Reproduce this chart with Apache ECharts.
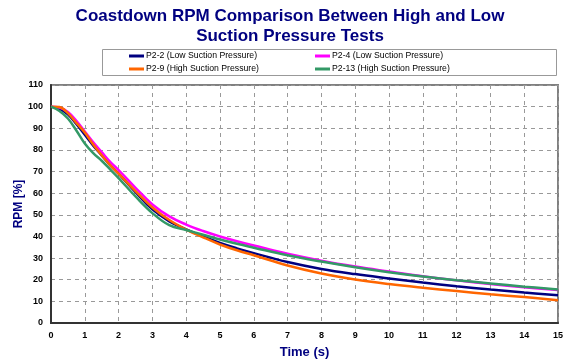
<!DOCTYPE html>
<html><head><meta charset="utf-8">
<script src="https://cdn.jsdelivr.net/npm/echarts@6/dist/echarts.min.js"></script>
<style>html,body{margin:0;padding:0;background:#fff}#c{width:563px;height:360px}</style>
</head><body><div id="c"></div>
<script>
const times = [0,0.25,0.5,0.75,1,1.25,1.5,1.75,2,2.5,3,3.5,4,4.5,5,5.5,6,7,8,9,10,11,12,13,14,15];
const p22  = [100,99,96.5,92,87,82,77.5,73,69,60.5,52.5,47,43.3,40,37,34.5,32.3,28.2,25,22.6,20.6,18.7,17,15.5,14.1,12.8];
const p24  = [100,99.6,97.5,93.5,88.5,83.5,79,74.5,70.7,62.5,54.8,49.3,45.5,42.5,40,37.8,35.8,32,28.8,26.1,23.8,21.6,19.7,18,16.5,15.2];
const p29  = [100,99.8,97,92.5,88,82.5,77.5,73,69,61,53.4,47.6,43.2,39.6,36.3,33.6,31.3,26.6,22.9,20.1,18,16.3,14.8,13.3,12,10.5];
const p213 = [100,98,94.5,89,83,78.5,75,71,67,58.5,50.8,45.2,43,40.8,38.6,36.6,34.8,31.3,28.4,25.8,23.5,21.5,19.8,18.3,16.8,15.5];
const names = ['P2-2 (Low Suction Pressure)','P2-4 (Low Suction Pressure)','P2-9 (High Suction Pressure)','P2-13 (High Suction Pressure)'];
const colors = ['#000080','#FF00FF','#FF6600','#339966'];
const seriesData = [p22,p24,p29,p213];
const zip = (arr) => times.map((t,i)=>[t,arr[i]]);

const chart = echarts.init(document.getElementById('c'));
const legendPos = [[129,51.5],[315,51.5],[129,64.5],[315,64.5]];
chart.setOption({
  animation:false,
  title:{text:'Coastdown RPM Comparison Between High and Low\nSuction Pressure Tests',left:285,textAlign:'center',top:1,
    textStyle:{fontFamily:'Liberation Sans, Arial',fontWeight:'bold',fontSize:17,color:'#000080',lineHeight:20}},
  graphic:[{type:'rect',shape:{x:102.5,y:49.5,width:454,height:26},style:{fill:'#fff',stroke:'#999',lineWidth:1},z:-1}],
  legend: names.map((n,i)=>({data:[n],left:legendPos[i][0],top:legendPos[i][1],padding:0,
    itemWidth:15,itemHeight:3,icon:'rect',itemGap:3,
    textStyle:{fontFamily:'Liberation Sans, Arial',fontSize:8.7,color:'#000',padding:[0,0,0,-3]}})),
  grid:{left:51,right:5,top:85,bottom:37,show:true,borderColor:'#808080',borderWidth:2,outerBoundsMode:'none',containLabel:false},
  xAxis:{type:'value',min:0,max:15,interval:1,
    name:'Time (s)',nameLocation:'middle',nameGap:23,nameMoveOverlap:false,
    nameTextStyle:{fontFamily:'Liberation Sans, Arial',fontWeight:'bold',fontSize:13,color:'#000080'},
    axisLine:{lineStyle:{color:'#333',width:2}},axisTick:{show:false},
    axisLabel:{fontFamily:'Liberation Sans, Arial',fontWeight:'bold',fontSize:9,color:'#000',margin:8},
    splitLine:{lineStyle:{type:[4,4],color:'#999',width:1}}},
  yAxis:{type:'value',min:0,max:110,interval:10,
    name:'RPM [%]',nameLocation:'middle',nameGap:26,nameRotate:90,nameMoveOverlap:false,
    nameTextStyle:{fontFamily:'Liberation Sans, Arial',fontWeight:'bold',fontSize:12,color:'#000080'},
    axisLine:{lineStyle:{color:'#333',width:2}},axisTick:{show:false},
    axisLabel:{fontFamily:'Liberation Sans, Arial',fontWeight:'bold',fontSize:9,color:'#000',margin:8},
    splitLine:{lineStyle:{type:[4,4],color:'#999',width:1}}},
  series: names.map((n,i)=>({name:n,type:'line',smooth:0.4,symbol:'none',data:zip(seriesData[i]),
    lineStyle:{color:colors[i],width:2.5},itemStyle:{color:colors[i]}}))
});
</script></body></html>
